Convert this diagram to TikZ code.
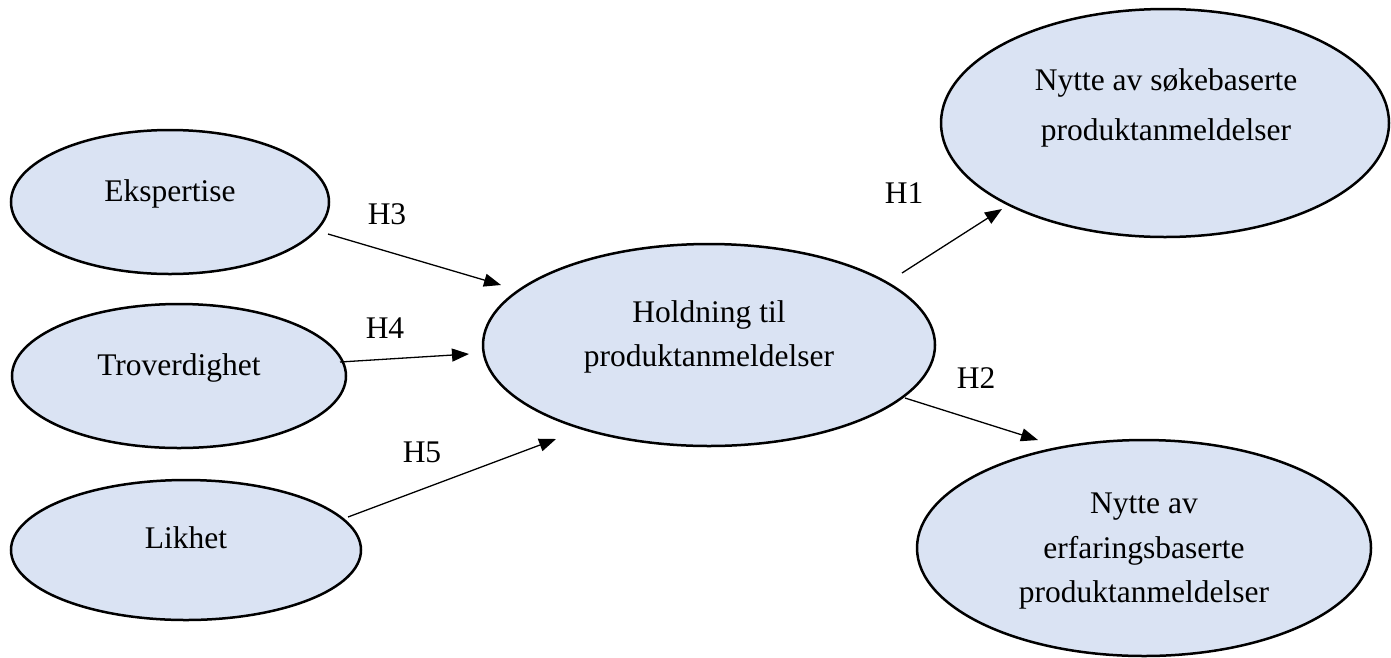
\documentclass[tikz,border=0pt]{standalone}
\usepackage{fontspec}
\setmainfont{Liberation Serif}
\usetikzlibrary{shapes.geometric,arrows.meta}
\definecolor{bubble}{HTML}{DAE3F3}
\tikzset{
  bub/.style={ellipse, draw=black, line width=2.5pt, fill=bubble, inner sep=0pt, outer sep=0pt},
  txt/.style={anchor=base, inner sep=0pt, font=\fontsize{31.5}{38}\selectfont},
  hyp/.style={inner sep=0pt, font=\fontsize{31.5}{38}\selectfont},
  arr/.style={line width=1.3pt, -{Triangle[length=17pt,width=13pt]}},
}
\begin{document}
\begin{tikzpicture}[x=1pt,y=-1pt]
\useasboundingbox (0,0) rectangle (1391,657);
% ellipses
\node[bub, minimum width=318pt, minimum height=144pt] (eks) at (170,202) {};
\node[bub, minimum width=334pt, minimum height=144pt] (tro) at (179,376) {};
\node[bub, minimum width=350pt, minimum height=140pt] (lik) at (186,550) {};
\node[bub, minimum width=452pt, minimum height=202pt] (hol) at (709,345) {};
\node[bub, minimum width=448pt, minimum height=228pt] (sok) at (1165,123) {};
\node[bub, minimum width=454pt, minimum height=216pt] (erf) at (1144,548) {};
% texts
\node[txt] (teks) at (170,201) {Ekspertise};
\node[txt] (ttro) at (179,375) {Troverdighet};
\node[txt] (tlik) at (186,548) {Likhet};
\node[txt] (thol1) at (709,322) {Holdning til};
\node[txt] (thol2) at (709,366) {produktanmeldelser};
\node[txt] (tsok1) at (1166,90) {Nytte av søkebaserte};
\node[txt] (tsok2) at (1166,140) {produktanmeldelser};
\node[txt] (terf1) at (1144,513) {Nytte av};
\node[txt] (terf2) at (1144,558) {erfaringsbaserte};
\node[txt] (terf3) at (1144,602) {produktanmeldelser};
% connector ends
\coordinate (h3a) at (328,234);  \coordinate (h3b) at (501,285);
\coordinate (h4a) at (340,362);  \coordinate (h4b) at (469,354);
\coordinate (h5a) at (348,517);  \coordinate (h5b) at (556,439);
\coordinate (h1a) at (902,273);  \coordinate (h1b) at (1002,209);
\coordinate (h2a) at (905,398);  \coordinate (h2b) at (1038,440);
\draw[arr] (h3a) -- (h3b);
\draw[arr] (h4a) -- (h4b);
\draw[arr] (h5a) -- (h5b);
\draw[arr] (h1a) -- (h1b);
\draw[arr] (h2a) -- (h2b);
% labels
\node[hyp] (l3) at (387,214) {H3};
\node[hyp] (l4) at (385,328) {H4};
\node[hyp] (l5) at (422,452) {H5};
\node[hyp] (l1) at (904,193) {H1};
\node[hyp] (l2) at (976,378) {H2};
\end{tikzpicture}
\end{document}
